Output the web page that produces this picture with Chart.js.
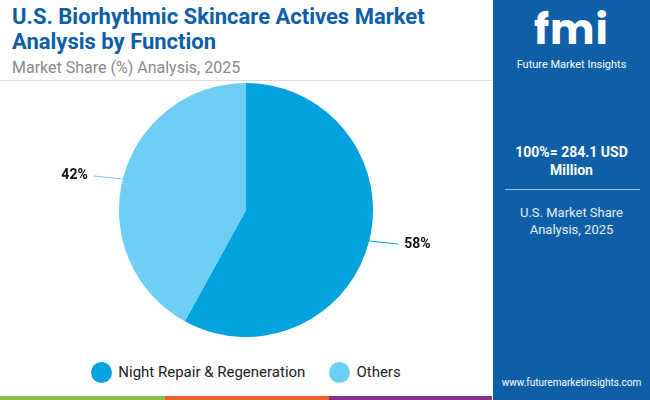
<!DOCTYPE html>
<html><head><meta charset="utf-8">
<script src="https://cdn.jsdelivr.net/npm/chart.js@4"></script>
<style>
body{margin:0;width:650px;height:400px;overflow:hidden;font-family:Roboto,sans-serif;background:#fff;position:relative}
#t{position:absolute;left:12px;top:4px;color:#0c5ea8;font-weight:bold;font-size:22px;line-height:25px}
#s{position:absolute;left:12px;top:58px;color:#8a8a8a;font-size:16px}
#hl{position:absolute;left:0;top:80px;width:492px;height:1px;background:#ddd}
#p{position:absolute;left:493px;top:0;width:157px;height:400px;background:#0e5fa6;color:#fff;text-align:center}
#cv{position:absolute;left:0;top:80px;width:492px;height:280px}
#lg{position:absolute;top:363px;left:0;width:492px;text-align:center;font-size:15px;color:#222}
#lg span{display:inline-block;margin:0 12px}
#lg i{display:inline-block;width:21px;height:21px;border-radius:50%;vertical-align:middle;margin-right:6px;position:relative;top:-1px}
.b{position:absolute;top:396px;height:4px}
</style></head><body>
<div id="t">U.S. Biorhythmic Skincare Actives Market<br>Analysis by Function</div>
<div id="s">Market Share (%) Analysis, 2025</div>
<div id="hl"></div>
<div id="cv"><canvas id="c"></canvas></div>
<div id="lg"></div>
<div class="b" style="left:0;width:165px;background:#8cc04a"></div>
<div class="b" style="left:165px;width:164px;background:#e8622c"></div>
<div class="b" style="left:329px;width:163px;background:#8b2f8f"></div>
<div id="p">
<div style="font-family:Poppins,'Open Sans',sans-serif;font-weight:bold;font-size:42px;letter-spacing:1px;margin-top:6px;line-height:48px">fmi</div>
<div style="font-size:11px;margin-top:4px">Future Market Insights</div>
<div style="font-weight:bold;font-size:14px;margin-top:72px;line-height:18px">100%= 284.1 USD<br>Million</div>
<div style="height:1px;background:#9cc0e0;margin:10px 10px 0 12px"></div>
<div style="font-size:13px;margin-top:14px;line-height:17px;color:#e6eef7">U.S. Market Share<br>Analysis, 2025</div>
<div style="position:absolute;top:377px;width:157px;font-size:10px">www.futuremarketinsights.com</div>
</div>
<script>
const categories=["Night Repair & Regeneration","Others"];
const shares=[58,42];
const colors=["#00a3de","#6dcdf3"];
document.getElementById('lg').innerHTML=categories.map((c,i)=>`<span><i style="background:${colors[i]}"></i>${c}</span>`).join('');
const labelPlugin={id:'lbl',afterDraw(ch){
 const ctx=ch.ctx;const meta=ch.getDatasetMeta(0);
 meta.data.forEach((a,i)=>{
  const m=(a.startAngle+a.endAngle)/2,r=a.outerRadius,x=a.x,y=a.y;
  const c=Math.cos(m),s=Math.sin(m);
  ctx.save();ctx.strokeStyle=colors[i];ctx.lineWidth=1;
  ctx.beginPath();ctx.moveTo(x+c*(r-4),y+s*(r-4));ctx.lineTo(x+c*(r+30),y+s*(r+10));ctx.stroke();
  ctx.fillStyle='#111';ctx.font='bold 14px Roboto';ctx.textAlign='center';ctx.textBaseline='middle';
  ctx.fillText(shares[i]+'%',x+c*(r+50),y+s*(r+12));ctx.restore();
 });}};
new Chart(document.getElementById('c'),{type:'pie',
 data:{labels:categories,datasets:[{data:shares,backgroundColor:colors,borderWidth:0,radius:127}]},
 options:{responsive:true,maintainAspectRatio:false,animation:false,layout:{padding:{top:0,bottom:20}},
 plugins:{legend:{display:false},tooltip:{enabled:false}}},plugins:[labelPlugin]});
</script></body></html>
